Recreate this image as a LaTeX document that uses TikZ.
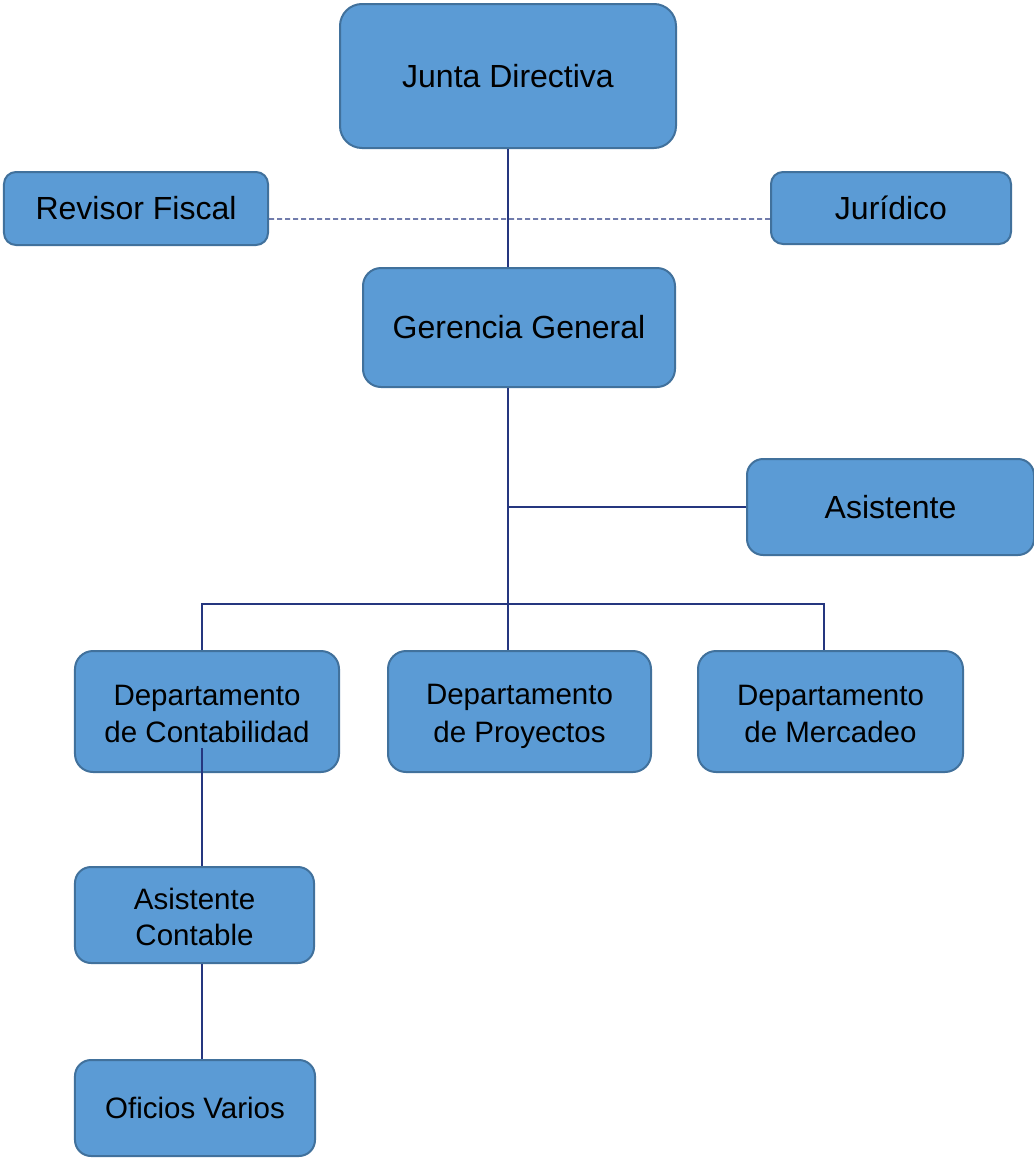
\documentclass[tikz,border=0pt]{standalone}
\usepackage{fontspec}
\setmainfont{Liberation Sans}
\definecolor{boxfill}{HTML}{5B9BD5}
\definecolor{boxline}{HTML}{41719C}
\definecolor{conn}{HTML}{25367F}
\newcommand\lnst{\rule[-5bp]{0pt}{35bp}}
\begin{document}
\begin{tikzpicture}[x=1bp,y=-1bp,
  orgbox/.style={draw=boxline, fill=boxfill, line width=2bp, rounded corners=12bp,
    inner sep=0pt, align=center, font=\fontsize{32bp}{38bp}\selectfont},
  bigbox/.style={orgbox, rounded corners=22bp},
  smallfont/.style={font=\fontsize{29.5bp}{36bp}\selectfont},
  link/.style={draw=conn, line width=1.3bp},
  dashlink/.style={link, dash pattern=on 5bp off 3bp}]
\useasboundingbox (0,0) rectangle (1034,1159);
\node[bigbox, minimum width=336bp, minimum height=144bp] (jd) at (508,76) {Junta Directiva};
\node[orgbox, minimum width=264bp, minimum height=73bp] (rf) at (136,208.5) {Revisor Fiscal};
\node[orgbox, minimum width=240bp, minimum height=72bp] (ju) at (891,208) {Jurídico};
\node[bigbox, rounded corners=18bp, minimum width=312bp, minimum height=119bp] (gg) at (519,327.5) {Gerencia General};
\node[orgbox, rounded corners=16bp, minimum width=287bp, minimum height=96bp] (as) at (890.5,507) {Asistente};
\node[orgbox, rounded corners=18bp, smallfont, minimum width=264bp, minimum height=121bp] (dc) at (207,711.5) {\lnst Departamento\\\lnst de Contabilidad};
\node[orgbox, rounded corners=18bp, smallfont, minimum width=263bp, minimum height=121bp] (dp) at (519.5,711.5) {\lnst Departamento\\\lnst de Proyectos};
\node[orgbox, rounded corners=18bp, smallfont, minimum width=265bp, minimum height=121bp] (dm) at (830.5,711.5) {\lnst Departamento\\\lnst de Mercadeo};
\node[orgbox, rounded corners=16bp, smallfont, minimum width=239bp, minimum height=96bp] (ac) at (194.5,915) {\lnst Asistente\\\lnst Contable};
\node[orgbox, rounded corners=16bp, smallfont, minimum width=240bp, minimum height=96bp] (ov) at (195,1108) {Oficios Varios};
\coordinate (bl) at (202,604);
\coordinate (br) at (824,604);
\coordinate (dcin) at (202,748);
\draw[link] (jd.south) -- (jd.south |- gg.north);
\draw[dashlink] ([yshift=-10.5bp]rf.east) -- ([yshift=-11bp]ju.west);
\draw[link] (gg.south -| jd.south) -- (dp.north -| jd.south);
\draw[link] (jd.south |- as.west) -- (as.west);
\draw[link] (dc.north -| bl) -- (bl) -- (br) -- (dm.north -| br);
\draw[link] (dcin) -- (ac.north -| bl);
\draw[link] (ac.south -| bl) -- (ov.north -| bl);
\end{tikzpicture}
\end{document}
